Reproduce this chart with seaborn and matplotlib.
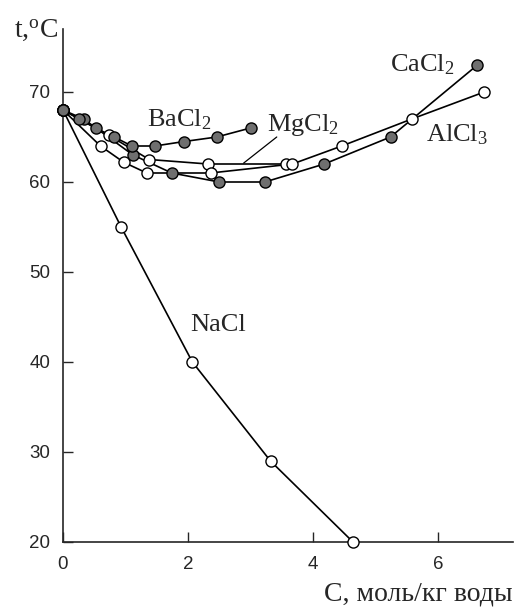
import matplotlib
matplotlib.use("Agg")
import matplotlib.pyplot as plt
import seaborn as sns
import pandas as pd

# ---- data (C, mol/kg water ; t, °C) ----
nacl_c = [0.0, 0.93, 2.07, 3.32, 4.64]
nacl_t = [68, 55, 40, 29, 20]

bacl2_c = [0.0, 0.26, 0.52, 0.82, 1.10, 1.47, 1.94, 2.46, 3.00]
bacl2_t = [68, 67, 66, 65, 64, 64, 64.5, 65, 66]

mgcl2_c = [0.0, 0.73, 1.38, 2.32, 3.56]
mgcl2_t = [68, 65.2, 62.5, 62, 62]

alcl3_c = [0.0, 0.60, 0.97, 1.34, 2.36, 3.67, 4.46, 5.58, 6.74]
alcl3_t = [68, 64, 62.2, 61, 61, 62, 64, 67, 70]

cacl2_c = [0.0, 0.33, 1.12, 1.74, 2.50, 3.23, 4.18, 5.24, 6.63]
cacl2_t = [68, 67, 63, 61, 60, 60, 62, 65, 73]

x_ticks = [0, 2, 4, 6]
y_ticks = [20, 30, 40, 50, 60, 70]

open_series = [("NaCl", nacl_c, nacl_t), ("MgCl2", mgcl2_c, mgcl2_t), ("AlCl3", alcl3_c, alcl3_t)]
filled_series = [("CaCl2", cacl2_c, cacl2_t), ("BaCl2", bacl2_c, bacl2_t)]

sns.set_style("ticks")
plt.rcParams["font.family"] = ["Liberation Sans", "DejaVu Sans"]
plt.rcParams["mathtext.fontset"] = "custom"
plt.rcParams["mathtext.rm"] = "Liberation Serif"
plt.rcParams["mathtext.it"] = "Liberation Serif"

fig = plt.figure(figsize=(5.27, 6.13), dpi=100)
ax = fig.add_axes([63 / 527, 71 / 613, 450 / 527, 513 / 613])

GRAY = "#6f6f6f"
MS = 8.0

# lines underneath all markers
for name, c, t in open_series + filled_series:
    df = pd.DataFrame({"C": c, "t": t})
    sns.lineplot(data=df, x="C", y="t", ax=ax, sort=False, estimator=None,
                 color="black", linewidth=1.2, zorder=2)

for name, c, t in open_series:
    df = pd.DataFrame({"C": c, "t": t})
    ax.plot(df["C"], df["t"], linestyle="none", marker="o", markersize=MS,
            markerfacecolor="white", markeredgecolor="black", markeredgewidth=1.0,
            zorder=3, clip_on=False)
for name, c, t in filled_series:
    df = pd.DataFrame({"C": c, "t": t})
    ax.plot(df["C"], df["t"], linestyle="none", marker="o", markersize=MS,
            markerfacecolor=GRAY, markeredgecolor="black", markeredgewidth=1.0,
            zorder=4, clip_on=False)

ax.set_xlim(0, 7.2)
ax.set_ylim(20, 77)
ax.set_xticks(x_ticks)
ax.set_yticks(y_ticks)
ax.tick_params(direction="in", length=7, width=1.0, labelsize=13.5)
ax.tick_params(axis="y", pad=9)
ax.tick_params(axis="x", pad=10)
sns.despine(ax=ax)
for s in ("left", "bottom"):
    ax.spines[s].set_linewidth(1.2)
ax.set_xlabel("")
ax.set_ylabel("")

serif = ["Liberation Serif", "DejaVu Serif"]
LFS = 19
ax.text(1.34, 66.9, r"BaCl$_2$", family=serif, fontsize=LFS, ha="left", va="center")
ax.text(3.26, 66.3, r"MgCl$_2$", family=serif, fontsize=LFS, ha="left", va="center")
ax.text(5.23, 73.0, r"CaCl$_2$", family=serif, fontsize=LFS, ha="left", va="center")
ax.text(5.81, 65.2, r"AlCl$_3$", family=serif, fontsize=LFS, ha="left", va="center")
ax.text(2.03, 44.1, "NaCl", family=serif, fontsize=LFS, ha="left", va="center")
ax.plot([3.42, 2.89], [65.0, 62.1], color="black", linewidth=0.9, zorder=2)

ax.text(-0.01, 0.998, r"t,$^{\rm o}$C", transform=ax.transAxes, family=serif,
        fontsize=20, ha="right", va="center")
fig.text(513 / 527, 1 - 594 / 613, "C, моль/кг воды", family=serif, fontsize=20,
         ha="right", va="center")

fig.savefig("out.png", dpi=100)
